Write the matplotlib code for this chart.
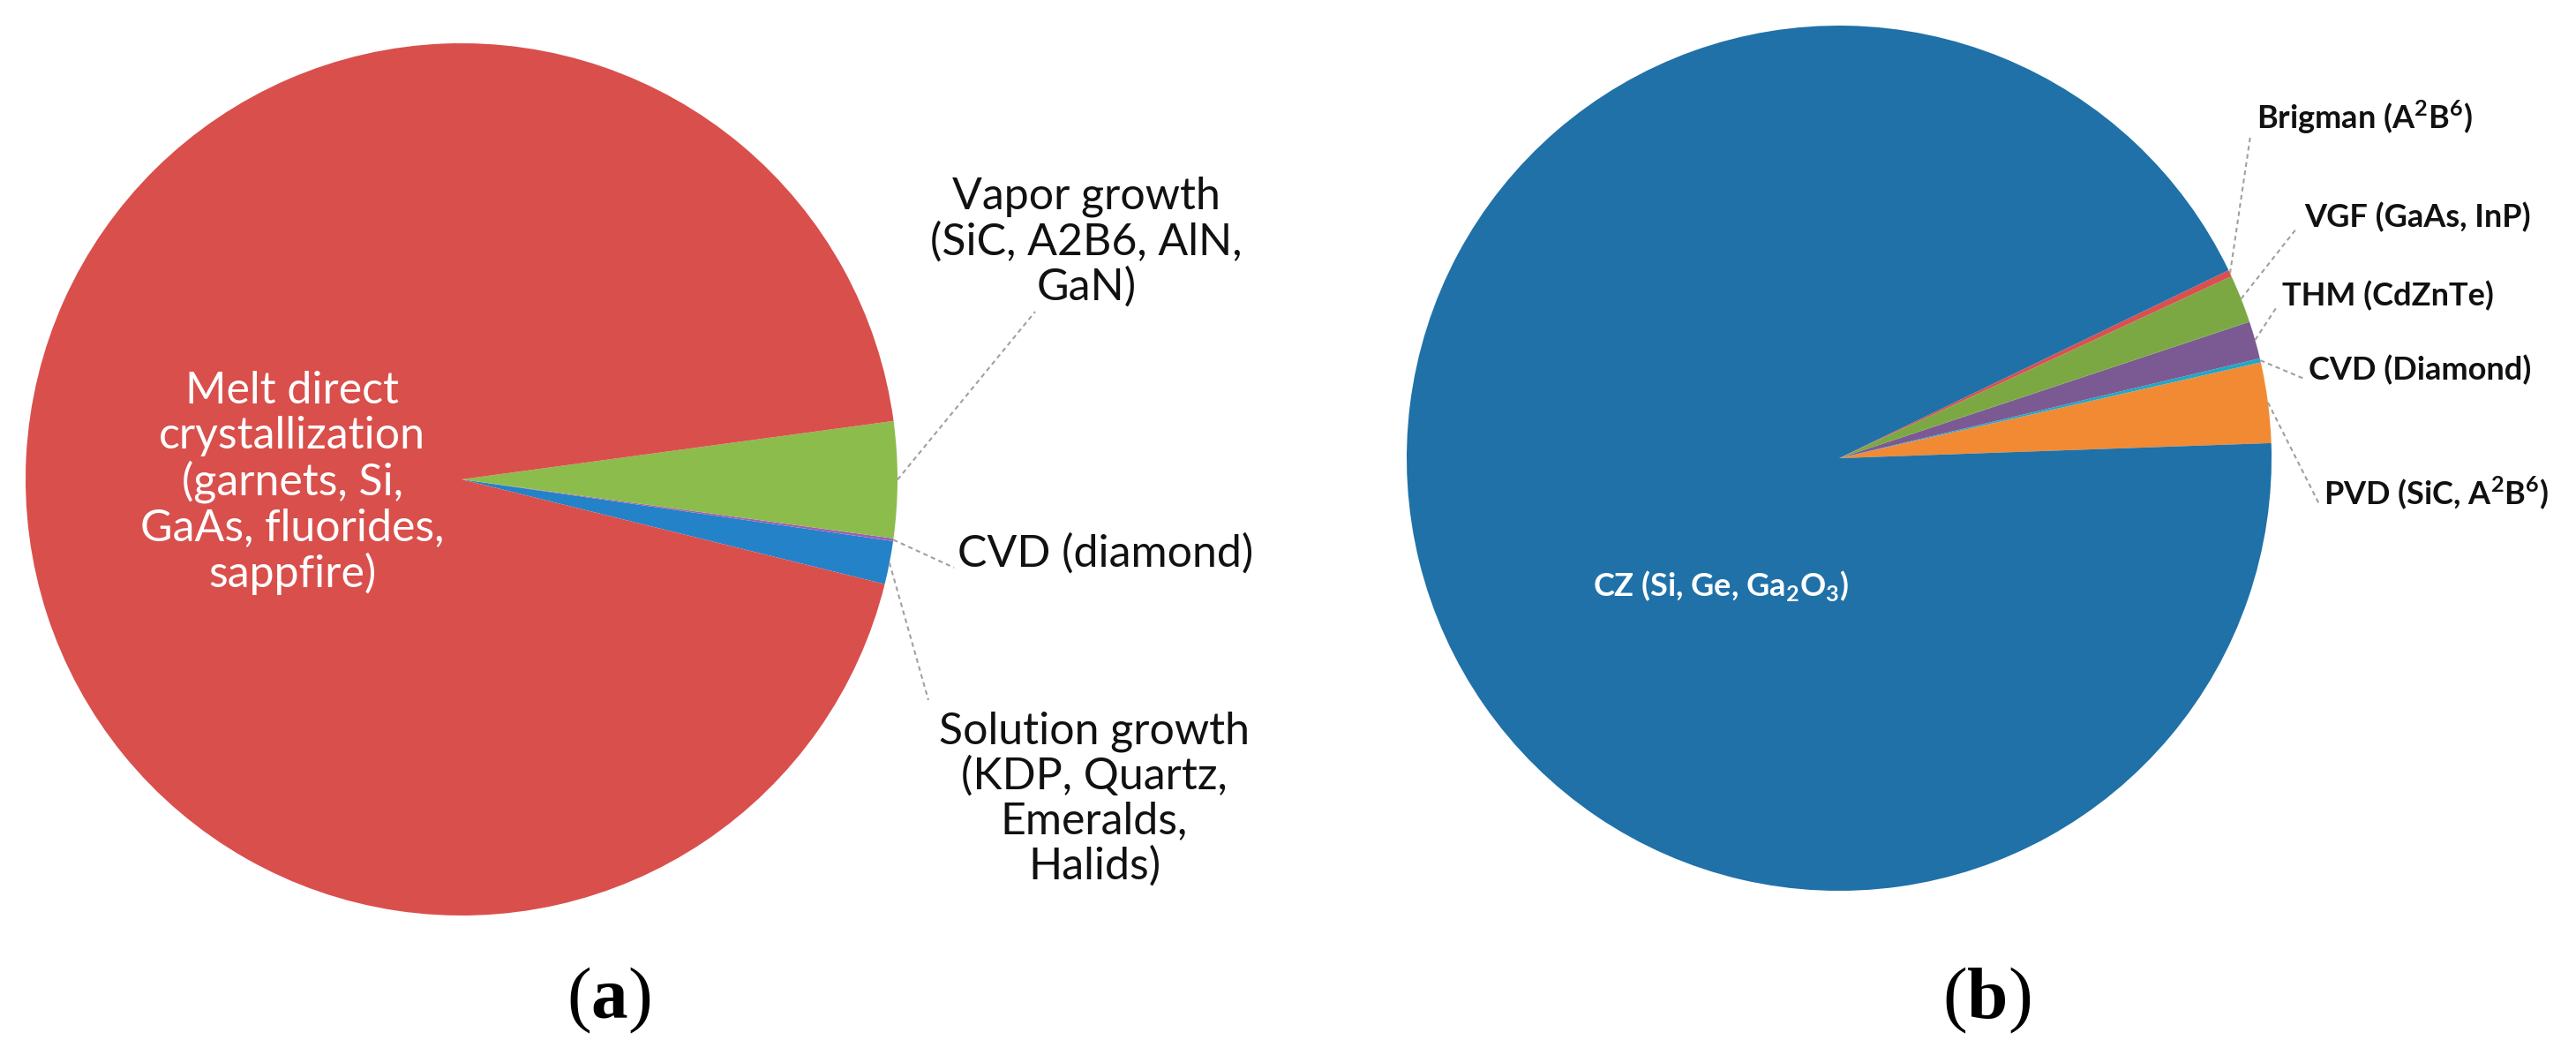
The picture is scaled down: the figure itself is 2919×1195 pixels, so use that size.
import numpy as np
import matplotlib.pyplot as plt

plt.rcParams['font.family'] = ['Lato', 'DejaVu Sans']
plt.rcParams['mathtext.fontset'] = 'custom'
plt.rcParams['mathtext.rm'] = 'Lato:bold'
plt.rcParams['mathtext.bf'] = 'Liberation Serif:bold'

# (a) growth methods, share of production
a_labels = ['Solution growth\n(KDP, Quartz,\nEmeralds,\nHalids)',
            'CVD (diamond)',
            'Vapor growth\n(SiC, A2B6, AlN,\nGaN)',
            'Melt direct\ncrystallization\n(garnets, Si,\nGaAs, fluorides,\nsappfire)']
a_values = [1.6, 0.1, 4.3, 94.0]
a_colors = ['#2382c8', '#a05fb5', '#8cbc4c', '#d94f4c']

# (b) melt / vapor methods
b_labels = ['PVD (SiC, A$^2$B$^6$)', 'CVD (Diamond)', 'THM (CdZnTe)',
            'VGF (GaAs, InP)', 'Brigman (A$^2$B$^6$)', 'CZ (Si, Ge, Ga$_2$O$_3$)']
b_values = [3.0, 0.15, 1.4, 1.8, 0.25, 93.4]
b_colors = ['#f28a33', '#1fa8c8', '#7b5a94', '#7ca844', '#d9504e', '#1f71a8']

W, H = 2919, 1195
fig = plt.figure(figsize=(W / 100, H / 100), dpi=100)
ax = fig.add_axes([0, 0, 1, 1])

lead = dict(color='#a0a0a0', lw=1.5, linestyle=(0, (2.5, 2)))


def edge_point(w, center, r):
    ang = np.deg2rad((w.theta1 + w.theta2) / 2)
    return center[0] + r * np.cos(ang), center[1] + r * np.sin(ang)


# ---- pie (a)
ca, ra = (523, 652), 494
wa, _ = ax.pie(a_values, colors=a_colors, startangle=-13.9, center=ca, radius=ra,
               wedgeprops=dict(linewidth=0))

ax.text(331, 648, a_labels[3], color='white', fontsize=36, ha='center', va='center',
        linespacing=1.12)

# label position, leader end
a_pos = [((1240, 290), (1052, 402), 'center', 'center'),
         ((1085, 568), (1081, 552), 'left', 'center'),
         ((1231, 921), (1173, 842), 'center', 'center')]
for i, ((tx, ty), end, ha, va) in enumerate(a_pos):
    sx, sy = edge_point(wa[i], ca, ra)
    ax.plot([sx, end[0]], [sy, end[1]], **lead)
    ax.text(tx, ty, a_labels[i], fontsize=36, ha=ha, va=va, linespacing=1.12,
            color='#111111')

# ---- pie (b)
cb, rb = (2084, 676), 490
wb, _ = ax.pie(b_values, colors=b_colors, startangle=2.0, center=cb, radius=rb,
               wedgeprops=dict(linewidth=0))

ax.text(1950, 532, b_labels[5], color='white', fontsize=26, fontweight='bold',
        ha='center', va='center')

b_pos = [((2633, 637), (2628, 624)),
         ((2616, 776), (2611, 766)),
         ((2586, 860), (2581, 849)),
         ((2611, 949), (2603, 937)),
         ((2557, 1062), (2550, 1041))]
for i, ((tx, ty), end) in enumerate(b_pos):
    sx, sy = edge_point(wb[i], cb, rb)
    ax.plot([sx, end[0]], [sy, end[1]], **lead)
    ax.text(tx, ty, b_labels[i], fontsize=26, fontweight='bold', ha='left',
            va='center', color='#111111')

# panel letters
ax.text(690, 62, r'($\mathbf{a}$)', family='Liberation Serif', fontsize=60,
        ha='center', va='center')
ax.text(2251, 62, r'($\mathbf{b}$)', family='Liberation Serif', fontsize=60,
        ha='center', va='center')

ax.set_xlim(0, W)
ax.set_ylim(0, H)
ax.set_aspect('equal')
ax.axis('off')

fig.savefig('out.png', dpi=100, facecolor='white')
